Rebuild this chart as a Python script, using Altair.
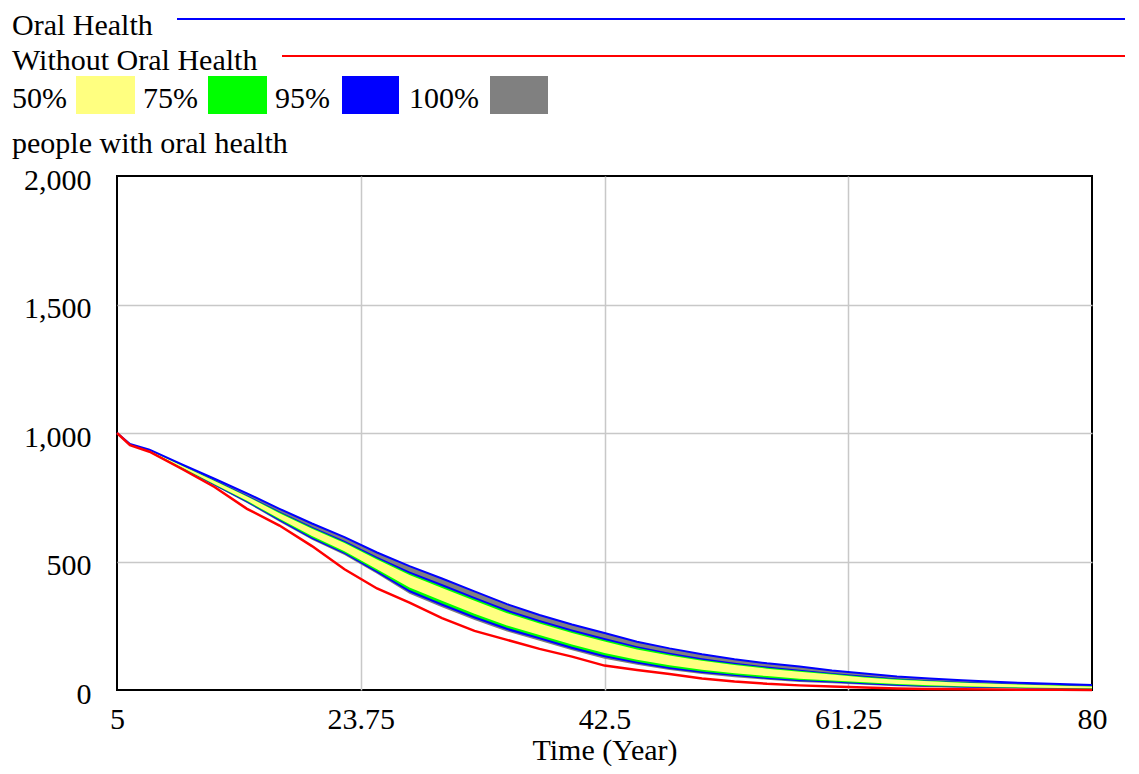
import altair as alt
import pandas as pd

# ---- data ----
t_years = [5, 6, 7.5, 10, 12.5, 15, 17.5, 20, 22.5, 25, 27.5, 30, 32.5, 35, 37.5, 40,
           42.5, 45, 47.5, 50, 52.5, 55, 57.5, 60, 62.5, 65, 67.5, 70, 72.5, 75, 77.5, 80]
oral_health = [1000, 957, 935, 878, 822, 765, 705, 648, 595, 535, 482, 434, 384, 334, 292, 255,
               222, 188, 162, 139, 120, 104, 91, 76, 64, 53, 45, 38, 32, 27, 23, 19]
band95_hi = [1000, 957, 934, 875, 817, 758, 695, 635, 581, 518, 461, 412, 362, 313, 272, 235,
             202, 170, 145, 124, 106, 91, 79, 66, 55, 45, 38, 32, 27, 23, 19, 16]
band75_hi = [1000, 956, 933, 874, 815, 755, 692, 631, 576, 513, 453, 404, 354, 305, 265, 228,
             195, 164, 139, 118, 101, 87, 75, 63, 52, 43, 36, 30, 25, 21, 18, 15]
band50_hi = [1000, 956, 933, 873, 813, 753, 688, 627, 572, 508, 447, 397, 347, 299, 259, 222,
             189, 158, 134, 114, 97, 83, 71, 60, 49, 40, 34, 28, 24, 20, 17, 14]
band50_lo = [1000, 955, 930, 866, 801, 736, 666, 599, 540, 470, 399, 347, 297, 251, 214, 177,
             144, 118, 96, 79, 65, 54, 44, 37, 30, 23, 18, 15, 12, 10, 8, 7]
band75_lo = [1000, 955, 929, 864, 799, 733, 662, 593, 534, 463, 389, 337, 287, 242, 205, 168,
             135, 110, 89, 72, 59, 48, 39, 33, 26, 20, 15, 13, 10, 8, 6, 5]
band95_lo = [1000, 955, 928, 863, 796, 730, 658, 588, 529, 456, 380, 328, 278, 233, 197, 160,
             127, 103, 82, 66, 54, 43, 34, 29, 22, 17, 13, 10, 8, 6, 5, 4]
band100_lo = [1000, 955, 928, 862, 795, 728, 655, 585, 525, 452, 375, 322, 272, 228, 192, 155,
              122, 98, 78, 62, 50, 40, 31, 26, 20, 15, 11, 9, 7, 5, 4, 3]
without_oral = [1000, 953, 927, 860, 790, 705, 640, 560, 470, 395, 340, 280, 230, 195, 160, 130,
                95, 78, 62, 45, 33, 24, 18, 14, 10, 6, 4, 3, 2, 1, 1, 0]

x_ticks = [5, 23.75, 42.5, 61.25, 80]
y_ticks = [0, 500, 1000, 1500, 2000]
series_names = ["Oral Health", "Without Oral Health"]
band_names = ["50%", "75%", "95%", "100%"]
y_title = "people with oral health"
x_title = "Time (Year)"

df = pd.DataFrame({
    "t": t_years, "U": oral_health,
    "b95u": band95_hi, "g75u": band75_hi, "y50u": band50_hi,
    "y50l": band50_lo, "g75l": band75_lo, "b95l": band95_lo,
    "L": band100_lo, "R": without_oral,
})

FONT = "Liberation Serif"
FS = 30

x_axis = alt.Axis(values=x_ticks, labelExpr="'' + datum.value", title=x_title, grid=True,
                  gridColor="#c8c8c8", gridWidth=1.5,
                  gridOpacity={"condition": {"test": "datum.value == 5 || datum.value == 80", "value": 0}, "value": 1},
                  domain=False, ticks=False, tickSize=0, labelPadding=14, labelFlush=False,
                  labelFont=FONT, labelFontSize=FS, labelColor="black",
                  titleFont=FONT, titleFontSize=FS, titleFontWeight="normal", titleColor="black",
                  titleY=69, titleBaseline="alphabetic")
y_axis = alt.Axis(values=y_ticks, format=",d", title=None, grid=True,
                  gridColor="#c8c8c8", gridWidth=1.5,
                  gridOpacity={"condition": {"test": "datum.value == 0 || datum.value == 2000", "value": 0}, "value": 1},
                  domain=False, ticks=False, tickSize=0, labelPadding=26, labelOffset=4,
                  labelFont=FONT, labelFontSize=FS, labelColor="black")

xs = alt.Scale(domain=[5, 80], nice=False, zero=False)
ys = alt.Scale(domain=[0, 2000], nice=False)

base = alt.Chart(df)

def band(lo, hi, color):
    return base.mark_area(color=color, opacity=1, interpolate="linear").encode(
        x=alt.X("t:Q", scale=xs, axis=x_axis),
        y=alt.Y(f"{lo}:Q", scale=ys, axis=y_axis),
        y2=alt.Y2(f"{hi}:Q"),
    )

gray = band("L", "U", "#808080")
blue = band("b95l", "b95u", "#0000ff")
green = band("g75l", "g75u", "#00ff00")
yellow = band("y50l", "y50u", "#ffff80")

line_oral = base.mark_line(color="#0000ff", strokeWidth=2).encode(
    x=alt.X("t:Q", scale=xs, axis=x_axis), y=alt.Y("U:Q", scale=ys, axis=y_axis))
line_without = base.mark_line(color="#ff0000", strokeWidth=2.5).encode(
    x=alt.X("t:Q", scale=xs, axis=x_axis), y=alt.Y("R:Q", scale=ys, axis=y_axis))

def label(txt, x, y):
    return alt.Chart(pd.DataFrame({"s": [txt]})).mark_text(
        align="left", baseline="alphabetic", font=FONT, fontSize=FS, color="black"
    ).encode(x=alt.value(x), y=alt.value(y), text="s:N")

def hrule(x1, x2, y, color):
    return alt.Chart(pd.DataFrame({"k": [0]})).mark_rule(color=color, strokeWidth=2).encode(
        x=alt.value(x1), x2=alt.value(x2), y=alt.value(y))

def swatch(x1, x2, color):
    return alt.Chart(pd.DataFrame({"k": [0]})).mark_rect(color=color).encode(
        x=alt.value(x1), x2=alt.value(x2), y=alt.value(-100), y2=alt.value(-62))

legend = [
    label(series_names[0], -105, -141),
    hrule(60, 1008, -157, "#0000ff"),
    label(series_names[1], -105, -106),
    hrule(165, 1008, -120, "#ff0000"),
    label(band_names[0], -105, -68), swatch(-41, 18, "#ffff80"),
    label(band_names[1], 26, -68), swatch(91, 150, "#00ff00"),
    label(band_names[2], 158, -68), swatch(225, 282, "#0000ff"),
    label(band_names[3], 292, -68), swatch(373, 431, "#808080"),
    label(y_title, -105, -23),
]

chart = alt.layer(gray, blue, green, yellow, line_oral, line_without, *legend).properties(
    width=975, height=514,
    autosize=alt.AutoSizeParams(type="none"),
    padding={"left": 109, "top": 168, "right": 39, "bottom": 76},
    background="white",
).configure_view(stroke="black", strokeWidth=2)

chart.save("out.html", embed_options={"renderer": "svg", "actions": False})
